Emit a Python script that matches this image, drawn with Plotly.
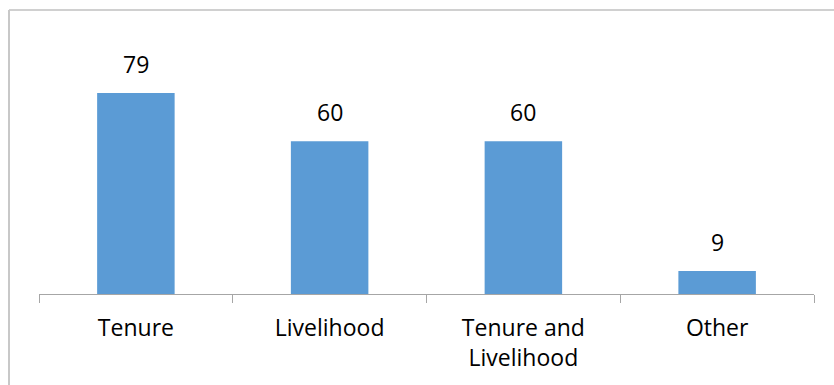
import plotly.graph_objects as go

# Categories and counts
categories = ["Tenure", "Livelihood", "Tenure and<br>Livelihood", "Other"]
values = [79, 60, 60, 9]

BAR_COLOR = "#5B9BD5"
FONT = "Open Sans"

fig = go.Figure(
    go.Bar(
        x=categories,
        y=values,
        marker=dict(color=BAR_COLOR, line=dict(width=0)),
        width=0.4,
        hoverinfo="x+y",
    )
)

# Value labels above each bar
for c, v in zip(categories, values):
    fig.add_annotation(
        x=c, y=v, xref="x", yref="y",
        text=str(v), showarrow=False,
        yanchor="bottom", yshift=11,
        font=dict(family=FONT, size=23, color="#000000"),
    )

W, H = 834, 385
L, R, T, B = 39, 20, 20, 91

fig.update_layout(
    width=W,
    height=H,
    margin=dict(l=L, r=R, t=T, b=B),
    paper_bgcolor="white",
    plot_bgcolor="white",
    showlegend=False,
    font=dict(family=FONT, size=23, color="#000000"),
)

fig.update_xaxes(
    showline=True,
    linecolor="#A6A6A6",
    linewidth=1,
    ticks="outside",
    tickson="boundaries",
    ticklen=8,
    tickcolor="#A6A6A6",
    ticklabelstandoff=13,
    tickfont=dict(family=FONT, size=23, color="#000000"),
    showgrid=False,
)

fig.update_yaxes(
    range=[0, 107.7],
    visible=False,
    showgrid=False,
    zeroline=False,
)

# Chart frame (top and left edges visible within the page)
pw = W - L - R
ph = H - T - B
fx0 = (9 - L) / pw
fy1 = 1 + (T - 10) / ph
fig.add_shape(type="line", xref="paper", yref="paper",
              x0=fx0, x1=1 + (R + 5) / pw, y0=fy1, y1=fy1,
              line=dict(color="#D0D0D0", width=2))
fig.add_shape(type="line", xref="paper", yref="paper",
              x0=fx0, x1=fx0, y0=fy1, y1=-(B + 5) / ph,
              line=dict(color="#C8C8C8", width=2))

fig.write_html("out.html")
